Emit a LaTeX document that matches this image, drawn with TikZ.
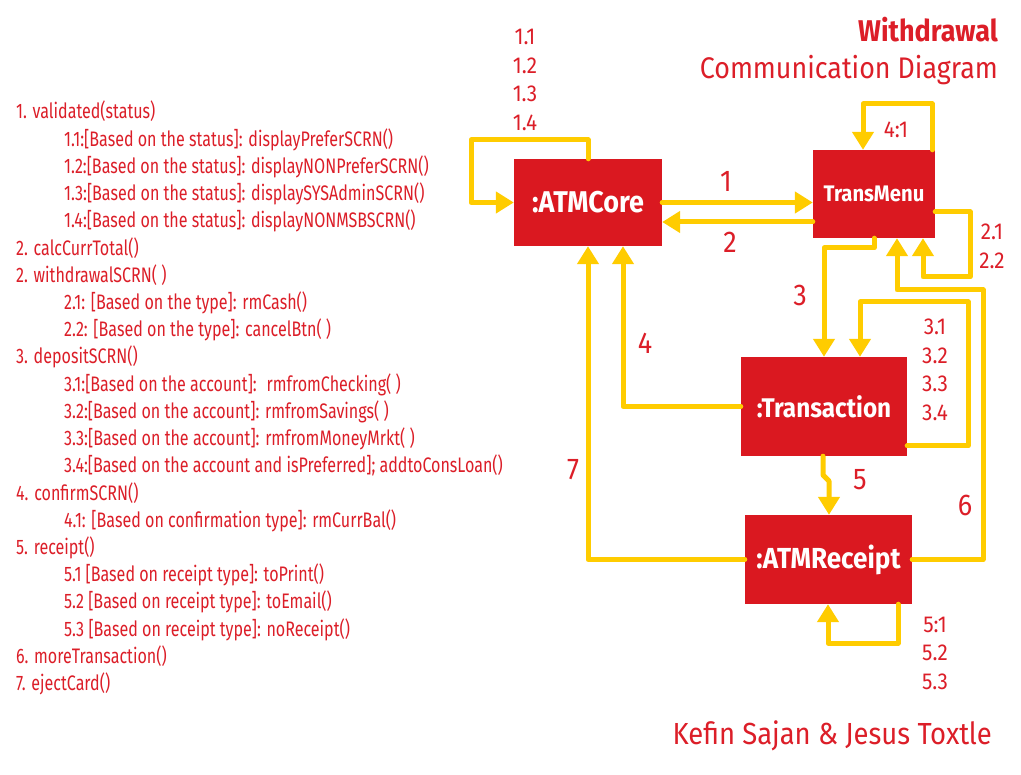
\documentclass[tikz,border=0pt]{standalone}
\usepackage{fontspec}
\setmainfont{Fira Sans}
\newfontfamily\cond[FakeStretch=0.765]{Fira Sans}
\newfontfamily\semi[FakeStretch=0.9]{Fira Sans}
\usetikzlibrary{arrows.meta}
\definecolor{boxred}{RGB}{218,24,32}
\definecolor{txtred}{RGB}{220,30,40}
\definecolor{lineyel}{RGB}{255,204,0}
\begin{document}
\begin{tikzpicture}[x=1pt,y=-1pt,
  obj/.style={fill=boxred, text=white, inner sep=0pt},
  conn/.style={draw=lineyel, line width=5pt, line cap=round, line join=round,
    -{Triangle[width=21pt,length=18pt]}},
  num/.style={text=txtred, align=center, inner sep=0pt, font=\semi\fontsize{23}{28.5}\selectfont},
  big/.style={text=txtred, inner sep=0pt, font=\semi\fontsize{30}{30}\selectfont},
  item/.style={text=txtred, anchor=base west, inner sep=0pt, font=\cond\fontsize{21}{21}\selectfont}]
\useasboundingbox (0,0) rectangle (1021,775);
\fill[white] (0,0) rectangle (1021,775);

% objects
\node[obj, minimum width=148pt, minimum height=87pt, font=\semi\bfseries\fontsize{30}{30}\selectfont] (core) at (588,202.5) {:ATMCore};
\node[obj, minimum width=122pt, minimum height=88pt, font=\semi\bfseries\fontsize{22.5}{22.5}\selectfont] (menu) at (874,194) {TransMenu};
\node[obj, minimum width=166pt, minimum height=99pt, font=\semi\bfseries\fontsize{27}{27}\selectfont] (trans) at (824,406.5) {:Transaction};
\node[obj, minimum width=167pt, minimum height=89pt, font=\semi\bfseries\fontsize{29}{29}\selectfont] (rcpt) at (828.5,559.5) {:ATMReceipt};

% connectors
\draw[conn] (core.north) |- (471,140) |- (core.west);
\draw[conn] (core.east) -- (core.east -| menu.west);
\draw[conn] (menu.west |- 0,222) -- (core.east |- 0,222);
\draw[conn] ([xshift=-3pt]menu.north east) |- (863,104) -- (menu.north -| 863,0);
\draw[conn] (menu.east |- 0,212) -| (970,277) -| (menu.south -| 923,0);
\draw[conn] (menu.south -| 874,0) |- (824,248) -- (trans.north);
\draw[conn] (trans.east |- 0,446) -| (968,302) -| (trans.north -| 860,0);
\draw[conn] (trans.west) -| (core.south -| 623,0);
\draw[conn] (trans.south -| 823,0) -- (823,475) -- (829,481) -- (rcpt.north -| 829,0);
\draw[conn] (rcpt.east) -| (983,290) -| (menu.south -| 897,0);
\draw[conn] (rcpt.west) -| (core.south);
\draw[conn] (rcpt.south -| 898,0) |- (828,643) -- (rcpt.south -| 828,0);

% message numbers
\node[num] (n1x) at (525,80) {1.1\\1.2\\1.3\\1.4};
\node[num] (n41) at (896,130) {4:1};
\node[num] (n2x) at (992,246.5) {2.1\\2.2};
\node[num] (n3x) at (935,370) {3.1\\3.2\\3.3\\3.4};
\node[num] (n5x) at (935,653) {5:1\\5.2\\5.3};
\node[big] (b1) at (726,181) {1};
\node[big] (b2) at (730,242) {2};
\node[big] (b3) at (800,295) {3};
\node[big] (b4) at (645,343) {4};
\node[big] (b5) at (860,480) {5};
\node[big] (b6) at (965,505) {6};
\node[big] (b7) at (573,470) {7};

% titles
\node[text=txtred, anchor=base east, inner sep=0pt, font=\semi\bfseries\fontsize{30}{30}\selectfont] (t1) at (998,42) {Withdrawal};
\node[text=txtred, anchor=base east, inner sep=0pt, font=\semi\fontsize{29.8}{29.8}\selectfont] (t2) at (998,79) {Communication Diagram};
\node[text=txtred, anchor=base east, inner sep=0pt, font=\semi\fontsize{30.5}{30.5}\selectfont] (t3) at (992,744) {Kefin Sajan \& Jesus Toxtle};

% message list
\node[item] (l1) at (16,119) {1. validated(status)};
\node[item] (l2) at (64,146.2) {1.1:[Based on the status]: displayPreferSCRN()};
\node[item] (l3) at (64,173.4) {1.2:[Based on the status]: displayNONPreferSCRN()};
\node[item] (l4) at (64,200.7) {1.3:[Based on the status]: displaySYSAdminSCRN()};
\node[item] (l5) at (64,227.9) {1.4:[Based on the status]: displayNONMSBSCRN()};
\node[item] (l6) at (16,255.1) {2. calcCurrTotal()};
\node[item] (l7) at (16,282.3) {2. withdrawalSCRN( )};
\node[item] (l8) at (64,309.5) {2.1: [Based on the type]: rmCash()};
\node[item] (l9) at (64,336.8) {2.2: [Based on the type]: cancelBtn( )};
\node[item] (l10) at (16,364) {3. depositSCRN()};
\node[item] (l11) at (64,391.2) {3.1:[Based on the account]: \ rmfromChecking( )};
\node[item] (l12) at (64,418.4) {3.2:[Based on the account]: rmfromSavings( )};
\node[item] (l13) at (64,445.6) {3.3:[Based on the account]: rmfromMoneyMrkt( )};
\node[item] (l14) at (64,472.8) {3.4:[Based on the account and isPreferred]; addtoConsLoan()};
\node[item] (l15) at (16,500.1) {4. confirmSCRN()};
\node[item] (l16) at (64,527.3) {4.1: [Based on confirmation type]: rmCurrBal()};
\node[item] (l17) at (16,554.5) {5. receipt()};
\node[item] (l18) at (64,581.7) {5.1 [Based on receipt type]: toPrint()};
\node[item] (l19) at (64,608.9) {5.2 [Based on receipt type]: toEmail()};
\node[item] (l20) at (64,636.2) {5.3 [Based on receipt type]: noReceipt()};
\node[item] (l21) at (16,663.4) {6. moreTransaction()};
\node[item] (l22) at (16,690.6) {7. ejectCard()};
\end{tikzpicture}
\end{document}
